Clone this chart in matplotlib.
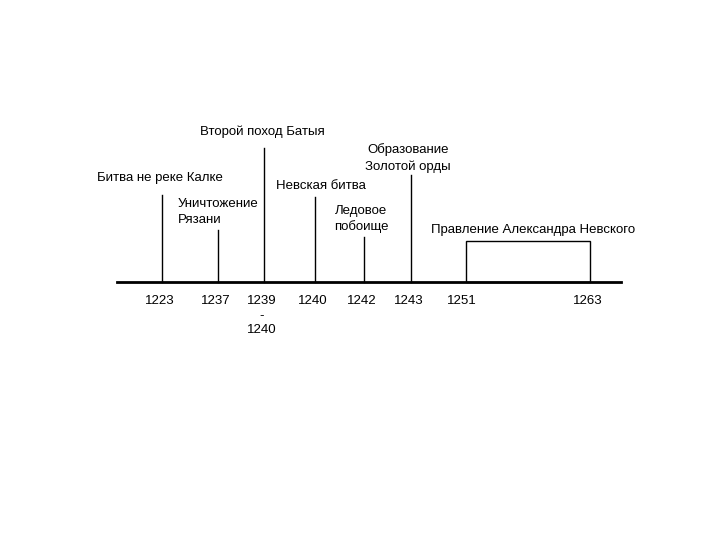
import matplotlib.pyplot as plt
from matplotlib.patches import Rectangle

plt.rcParams['font.family'] = ['Liberation Sans', 'DejaVu Sans']

# events: x position on the timeline, top of the pointer, year label, caption
years = ['1223', '1237', '1239\n-\n1240', '1240', '1242', '1243']
xs = [162, 218, 264, 315, 364, 411]
tops = [195, 230, 148, 197, 237, 175]
captions = ['Битва не реке Калке', 'Уничтожение\nРязани', 'Второй поход Батыя',
            'Невская битва', 'Ледовое\nпобоище', 'Образование\nЗолотой орды']
cap_x = [160, 178, 262, 276, 361, 408]
cap_y = [178, 212, 132, 186, 219, 158]
cap_ha = ['center', 'left', 'center', 'left', 'center', 'center']

reign = ('1251', '1263')
reign_x = (466, 590)
reign_label = 'Правление Александра Невского'

fig = plt.figure(figsize=(7.2, 5.4), dpi=100)
ax = fig.add_axes([0, 0, 1, 1])
ax.set_xlim(0, 720)
ax.set_ylim(540, 0)
ax.axis('off')

base = 282
ax.plot([117, 621], [base, base], color='black', lw=2)

for x, t, yr, cap, cx, cy, ha in zip(xs, tops, years, captions, cap_x, cap_y, cap_ha):
    ax.plot([x, x], [base, t], color='black', lw=1)
    ax.text(x - 2, 295, yr, ha='center', va='top', fontsize=9.5, linespacing=1.3)
    ax.text(cx, cy, cap, ha=ha, va='center', fontsize=9.5, linespacing=1.4)

ax.add_patch(Rectangle((reign_x[0], 241), reign_x[1] - reign_x[0], base - 241,
                       fill=False, edgecolor='black', lw=1))
ax.text(reign_x[0] - 4, 295, reign[0], ha='center', va='top', fontsize=9.5)
ax.text(reign_x[1] - 2, 295, reign[1], ha='center', va='top', fontsize=9.5)
ax.text(533, 230, reign_label, ha='center', va='center', fontsize=9.5)

fig.savefig('out.png', dpi=100)
